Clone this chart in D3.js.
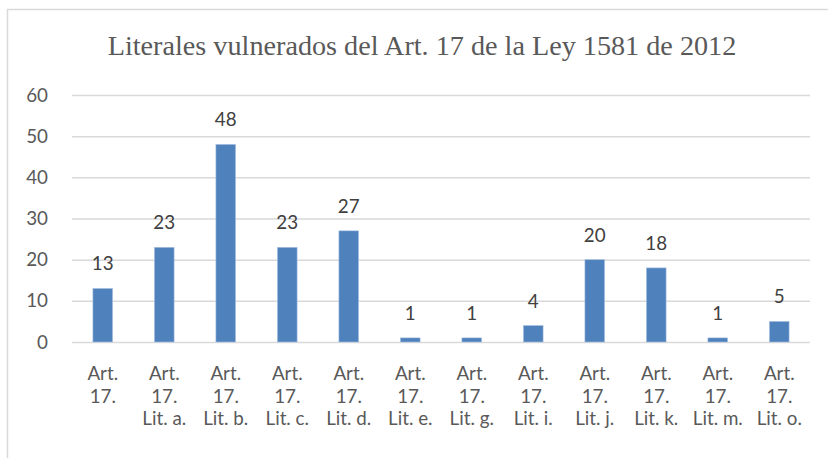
<!DOCTYPE html>
<html><head><meta charset="utf-8">
<script src="https://cdn.jsdelivr.net/npm/d3@7"></script>
<style>body{margin:0;background:#fff}svg{display:block}</style>
</head><body>
<svg id="c" width="828" height="458"></svg>
<script>
const title = "Literales vulnerados del Art. 17 de la Ley 1581 de 2012";
const categories = ["Art. 17.", "Art. 17. Lit. a.", "Art. 17. Lit. b.", "Art. 17. Lit. c.", "Art. 17. Lit. d.", "Art. 17. Lit. e.", "Art. 17. Lit. g.", "Art. 17. Lit. i.", "Art. 17. Lit. j.", "Art. 17. Lit. k.", "Art. 17. Lit. m.", "Art. 17. Lit. o."];
const values = [13, 23, 48, 23, 27, 1, 1, 4, 20, 18, 1, 5];
const yTicks = [0, 10, 20, 30, 40, 50, 60];

const FS = 18.8;
const FONT = "Lato";
const svg = d3.select("#c");
svg.append("rect").attr("x", 7.5).attr("y", 9.5).attr("width", 840).attr("height", 470)
  .attr("fill", "#fff").attr("stroke", "#D9D9D9").attr("stroke-width", 1.5);

const m = {left: 72, right: 810, top: 95, bottom: 342};
const x = d3.scaleBand().domain(categories).range([m.left, m.right]).paddingInner(0.68).paddingOuter(0.34);
const y = d3.scaleLinear().domain([0, 60]).range([m.bottom, m.top]);

svg.append("text").attr("x", 422).attr("y", 55).attr("text-anchor", "middle")
  .attr("font-family", "Liberation Serif").attr("font-size", 28.2).attr("fill", "#595959")
  .text(title);

const yAxis = d3.axisLeft(y).tickValues(yTicks).tickSize(-(m.right - m.left)).tickPadding(24);
const gy = svg.append("g").attr("transform", `translate(${m.left},0)`).call(yAxis);
gy.select(".domain").remove();
gy.selectAll(".tick line").attr("stroke", "#D9D9D9").attr("stroke-width", 1.5);
gy.selectAll(".tick text").attr("font-family", FONT).attr("font-size", FS).attr("fill", "#595959");

svg.append("g").selectAll("rect").data(values).join("rect")
  .attr("x", (d, i) => x(categories[i])).attr("width", x.bandwidth())
  .attr("y", d => y(d)).attr("height", d => y(0) - y(d))
  .attr("fill", "#4F81BD").attr("stroke", "#A9C1E0").attr("stroke-width", 0.6);

svg.append("g").selectAll("text").data(values).join("text")
  .attr("x", (d, i) => x(categories[i]) + x.bandwidth() / 2).attr("y", d => y(d) - 18)
  .attr("text-anchor", "middle").attr("font-family", FONT).attr("font-size", FS).attr("fill", "#404040")
  .text(d => d);

const xAxis = d3.axisBottom(x).tickSize(0).tickPadding(0);
const gx = svg.append("g").attr("transform", `translate(0,${m.bottom})`).call(xAxis);
gx.select(".domain").remove();
gx.selectAll(".tick text").each(function(d) {
  const parts = d.split(" ");
  const lines = [parts[0], parts[1]];
  if (parts.length > 2) lines.push(parts.slice(2).join(" "));
  const t = d3.select(this).text(null).attr("font-family", FONT).attr("font-size", FS).attr("fill", "#595959").attr("y", 0).attr("dy", null);
  lines.forEach((l, i) => t.append("tspan").attr("x", 0).attr("y", 38 + i * 22.6).text(l));
});
</script>
</body></html>
